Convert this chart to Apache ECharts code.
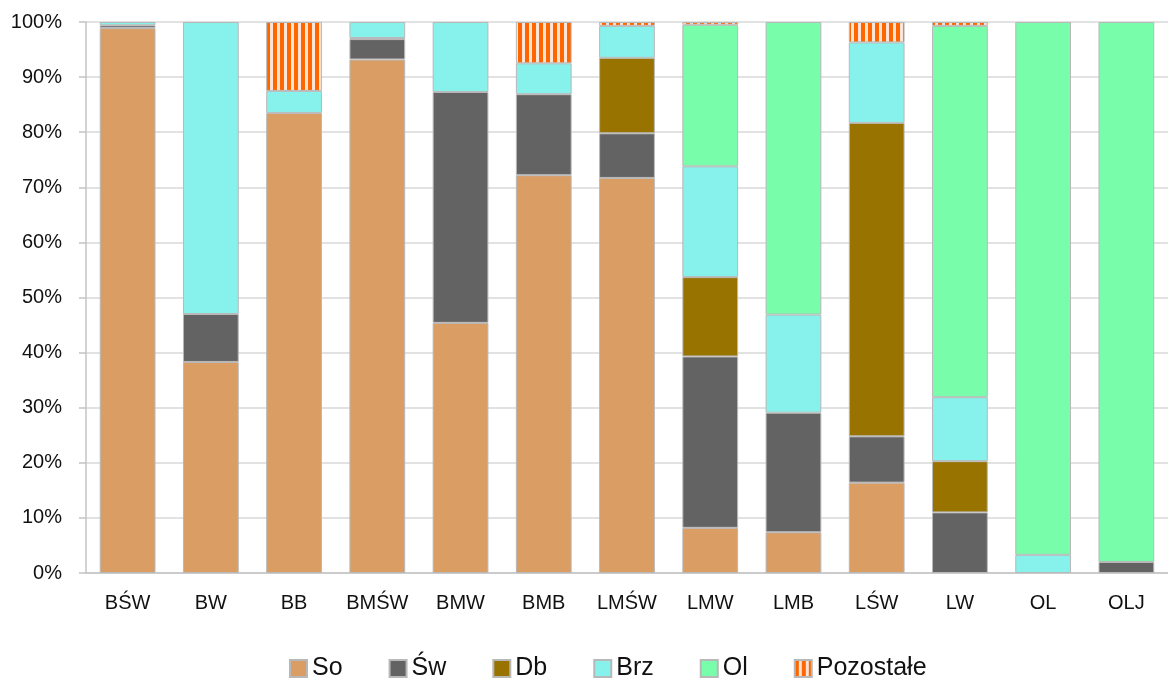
<!DOCTYPE html>
<html>
<head>
<meta charset="utf-8">
<script src="https://cdn.jsdelivr.net/npm/echarts@6/dist/echarts.min.js"></script>
<style>
  html, body { margin: 0; padding: 0; background: #ffffff; }
  #chart { width: 1168px; height: 679px; }
</style>
</head>
<body>
<div id="chart"></div>
<script>
// ---- data ----
var categories = ['BŚW', 'BW', 'BB', 'BMŚW', 'BMW', 'BMB', 'LMŚW', 'LMW', 'LMB', 'LŚW', 'LW', 'OL', 'OLJ'];
var seriesNames = ['So', 'Św', 'Db', 'Brz', 'Ol', 'Pozostałe'];
var soValues   = [98.9, 38.3, 83.5, 93.2, 45.4, 72.2, 71.7, 8.2,  7.4,  16.4, null, null, null];
var swValues   = [0.5,  8.7,  null, 3.7,  41.9, 14.7, 8.1,  31.1, 21.7, 8.4,  11.0, null, 2.0];
var dbValues   = [null, null, null, 0.2,  null, null, 13.7, 14.4, null, 56.9, 9.3,  null, null];
var brzValues  = [0.6,  53.0, 4.0,  2.9,  12.7, 5.6,  5.8,  20.1, 17.8, 14.6, 11.6, 3.3,  null];
var olValues   = [null, null, null, null, null, null, null, 25.7, 53.1, null, 67.4, 96.7, 98.0];
var pozValues  = [null, null, 12.5, null, null, 7.5,  0.7,  0.5,  null, 3.7,  0.7,  null, null];
var yTicks = [0, 10, 20, 30, 40, 50, 60, 70, 80, 90, 100];

// ---- striped pattern for "Pozostałe" ----
var pc = document.createElement('canvas');
pc.width = 7; pc.height = 10;
var pctx = pc.getContext('2d');
pctx.fillStyle = '#fce4d6';
pctx.fillRect(0, 0, 7, 10);
pctx.fillStyle = '#ff6600';
pctx.fillRect(0, 0, 4, 10);

var colors = ['#da9e64', '#636363', '#997300', '#87f2ec', '#78feaa', { image: pc, repeat: 'repeat' }];
var valueLists = [soValues, swValues, dbValues, brzValues, olValues, pozValues];

var series = seriesNames.map(function (name, i) {
  return {
    name: name,
    type: 'bar',
    stack: 'total',
    barCategoryGap: '33%',
    data: valueLists[i],
    itemStyle: {
      color: colors[i],
      borderColor: '#b8b8b8',
      borderWidth: 1
    },
    emphasis: { disabled: true }
  };
});

var chart = echarts.init(document.getElementById('chart'), null, { renderer: 'canvas' });
chart.setOption({
  animation: false,
  backgroundColor: '#ffffff',
  textStyle: { fontFamily: 'Liberation Sans, Arial, sans-serif' },
  grid: { left: 86, top: 22, width: 1083, bottom: 106, containLabel: false },
  legend: {
    data: seriesNames,
    left: 284,
    top: 651,
    icon: 'rect',
    itemWidth: 17,
    itemHeight: 17,
    itemGap: 46,
    textStyle: { fontSize: 25, color: '#111111', fontFamily: 'Liberation Sans, Arial, sans-serif' }
  },
  xAxis: {
    type: 'category',
    data: categories,
    axisLine: { lineStyle: { color: '#c4c4c4', width: 1.5 } },
    axisTick: { show: false },
    axisLabel: { fontSize: 20, color: '#111111', margin: 20 }
  },
  yAxis: {
    type: 'value',
    min: yTicks[0],
    max: yTicks[yTicks.length - 1],
    interval: 10,
    axisLine: { show: true, lineStyle: { color: '#c4c4c4', width: 1.5 } },
    axisTick: { show: true, length: 7, lineStyle: { color: '#c4c4c4', width: 1.5 } },
    splitLine: { lineStyle: { color: '#d9d9d9', width: 1.5 } },
    axisLabel: { fontSize: 20, color: '#111111', margin: 24, formatter: '{value}%' }
  },
  series: series
});
</script>
</body>
</html>
